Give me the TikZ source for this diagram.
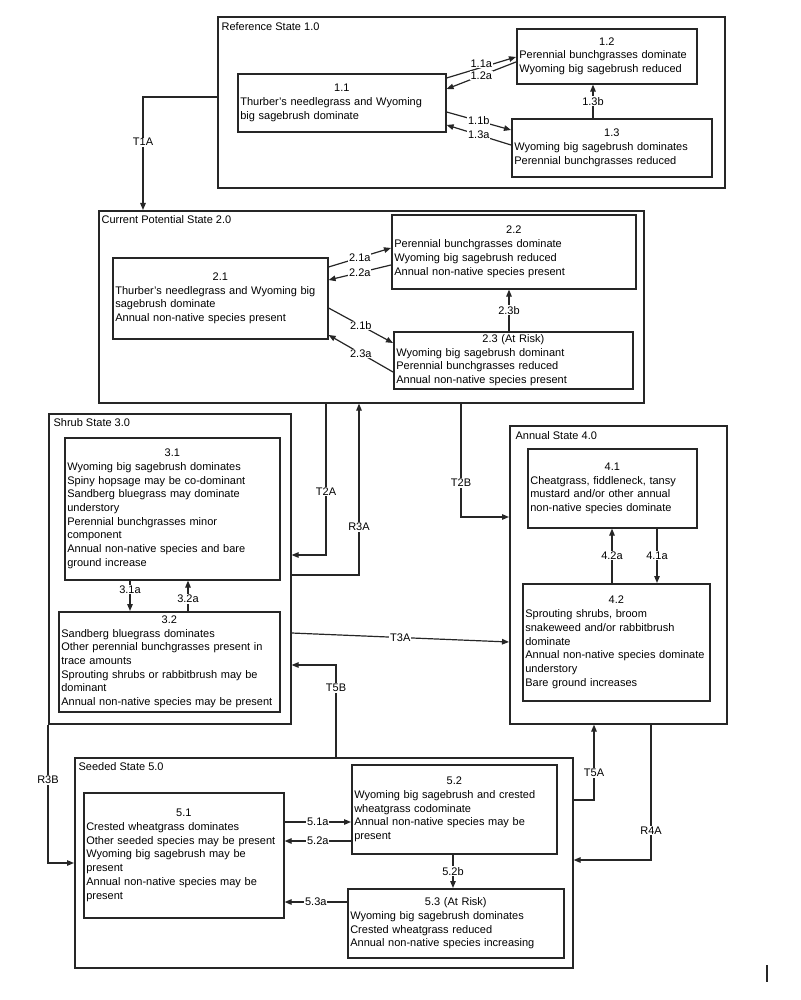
\documentclass[tikz,border=0pt]{standalone}
\usepackage{fontspec}
\setmainfont{Liberation Sans}
\usepackage{tikz}
\usetikzlibrary{arrows.meta}
\usetikzlibrary{calc,positioning}

\newcommand{\phhead}[1]{\makebox[\linewidth]{#1}\\}

\tikzset{
  statebox/.style={draw=black!85, line width=1.6pt, anchor=north west, inner sep=0pt},
  statetitle/.style={inner sep=0pt, anchor=north west},
  phase/.style={draw=black!85, line width=1.6pt, anchor=north west, inner xsep=2.5pt, inner ysep=0pt, align=left},
  tlabel/.style={fill=white, inner sep=0.8pt}
}

\begin{document}
\begin{tikzpicture}[x=1pt, y=-1pt, >={Triangle[length=7pt,width=5.5pt]}, line width=1.2pt, draw=black!85, font=\fontsize{11}{13.7}\selectfont]
        \useasboundingbox (0,0) rectangle (800,1000);

        % states
        \node[statebox, minimum width=507pt, minimum height=171pt] (S1) at (217,16) {};
        \node[statebox, minimum width=545pt, minimum height=192pt] (S2) at (98,210) {};
        \node[statebox, minimum width=242pt, minimum height=310pt] (S3) at (48,413) {};
        \node[statebox, minimum width=217pt, minimum height=298pt] (S4) at (509,425) {};
        \node[statebox, minimum width=498pt, minimum height=210pt] (S5) at (74,757) {};

        \node[statetitle, below right=6pt and 4pt of S1.north west] (t1) {Reference State 1.0};
        \node[statetitle, below right=5pt and 3pt of S2.north west] (t2) {Current Potential State 2.0};
        \node[statetitle, below right=5pt and 5pt of S3.north west] (t3) {Shrub State 3.0};
        \node[statetitle, below right=6pt and 6pt of S4.north west] (t4) {Annual State 4.0};
        \node[statetitle, below right=5pt and 4pt of S5.north west] (t5) {Seeded State 5.0};

        % phases
        \node[phase, minimum width=208pt, minimum height=58pt, text width=203pt] (p11) at (237,73)
          {\phhead{1.1}Thurber's needlegrass and Wyoming\\big sagebrush dominate};
        \node[phase, minimum width=180pt, minimum height=55pt, text width=175pt] (p12) at (516,28)
          {\phhead{1.2}Perennial bunchgrasses dominate\\Wyoming big sagebrush reduced};
        \node[phase, minimum width=200pt, minimum height=58pt, text width=195pt] (p13) at (511,118)
          {\phhead{1.3}Wyoming big sagebrush dominates\\Perennial bunchgrasses reduced};

        \node[phase, minimum width=215pt, minimum height=81pt, text width=210pt] (p21) at (112,257)
          {\phhead{2.1}Thurber's needlegrass and Wyoming big\\sagebrush dominate\\Annual non-native species present};
        \node[phase, minimum width=244pt, minimum height=74pt, text width=239pt] (p22) at (391,214)
          {\phhead{2.2}Perennial bunchgrasses dominate\\Wyoming big sagebrush reduced\\Annual non-native species present};
        \node[phase, minimum width=239pt, minimum height=57pt, text width=234pt] (p23) at (393,331)
          {\phhead{2.3 (At Risk)}Wyoming big sagebrush dominant\\Perennial bunchgrasses reduced\\Annual non-native species present};

        \node[phase, minimum width=215pt, minimum height=142pt, text width=210pt] (p31) at (64,437)
          {\phhead{3.1}Wyoming big sagebrush dominates\\Spiny hopsage may be co-dominant\\Sandberg bluegrass may dominate\\understory\\Perennial bunchgrasses minor\\component\\Annual non-native species and bare\\ground increase};
        \node[phase, minimum width=221pt, minimum height=100pt, text width=216pt] (p32) at (58,611)
          {\phhead{3.2}Sandberg bluegrass dominates\\Other perennial bunchgrasses present in\\trace amounts\\Sprouting shrubs or rabbitbrush may be\\dominant\\Annual non-native species may be present};

        \node[phase, minimum width=169pt, minimum height=79pt, text width=164pt] (p41) at (527,448)
          {\phhead{4.1}Cheatgrass, fiddleneck, tansy\\mustard and/or other annual\\non-native species dominate};
        \node[phase, minimum width=187pt, minimum height=117pt, text width=182pt] (p42) at (522,583)
          {\phhead{4.2}Sprouting shrubs, broom\\snakeweed and/or rabbitbrush\\dominate\\Annual non-native species dominate\\understory\\Bare ground increases};

        \node[phase, minimum width=200pt, minimum height=125pt, text width=195pt] (p51) at (83,792)
          {\phhead{5.1}Crested wheatgrass dominates\\Other seeded species may be present\\Wyoming big sagebrush may be\\present\\Annual non-native species may be\\present};
        \node[phase, minimum width=205pt, minimum height=89pt, text width=200pt] (p52) at (351,764)
          {\phhead{5.2}Wyoming big sagebrush and crested\\wheatgrass codominate\\Annual non-native species may be\\present};
        \node[phase, minimum width=216pt, minimum height=69pt, text width=211pt] (p53) at (347,888)
          {\phhead{5.3 (At Risk)}Wyoming big sagebrush dominates\\Crested wheatgrass reduced\\Annual non-native species increasing};

        % pathways inside states
        \path[->] ($(p11.north east)+(0,5)$) edge node[tlabel, yshift=4pt] {1.1a} ($(p12.north west)+(0,29)$);
        \path[->] ($(p12.north west)+(0,34)$) edge node[tlabel] {1.2a} ($(p11.north east)+(0,16)$);
        \path[->] ($(p11.north east)+(0,39)$) edge node[tlabel] {1.1b} ($(p13.north west)+(0,12)$);
        \path[->] ($(p13.north west)+(0,27)$) edge node[tlabel] {1.3a} ($(p11.north east)+(0,52)$);
        \path[->] ($(p13.north west)+(82,0)$) edge node[tlabel] {1.3b} ($(p12.south west)+(77,0)$);

        \path[->] ($(p21.north east)+(0,10)$) edge node[tlabel] {2.1a} ($(p22.north west)+(0,34)$);
        \path[->] ($(p22.north west)+(0,51)$) edge node[tlabel] {2.2a} ($(p21.north east)+(0,23)$);
        \path[->] ($(p21.north east)+(0,51)$) edge node[tlabel] {2.1b} ($(p23.north west)+(0,12)$);
        \path[->] ($(p23.north west)+(0,41)$) edge node[tlabel] {2.3a} ($(p21.north east)+(0,78)$);
        \path[->] ($(p23.north west)+(116,0)$) edge node[tlabel] {2.3b} ($(p22.south west)+(118,0)$);

        \path[->] ($(p31.south west)+(66,0)$) edge node[tlabel, pos=0.3] {3.1a} ($(p32.north west)+(72,0)$);
        \path[->] ($(p32.north west)+(130,0)$) edge node[tlabel, pos=0.4] {3.2a} ($(p31.south west)+(124,0)$);

        \path[->] ($(p42.north west)+(90,0)$) edge node[tlabel] {4.2a} ($(p41.south west)+(85,0)$);
        \path[->] ($(p41.south west)+(130,0)$) edge node[tlabel] {4.1a} ($(p42.north west)+(135,0)$);

        \path[->] ($(p51.north east)+(0,30)$) edge node[tlabel] {5.1a} ($(p52.north west)+(0,58)$);
        \path[->] ($(p52.north west)+(0,77)$) edge node[tlabel] {5.2a} ($(p51.north east)+(0,49)$);
        \path[->] ($(p52.south west)+(102,0)$) edge node[tlabel] {5.2b} ($(p53.north west)+(106,0)$);
        \path[->] ($(p53.north west)+(0,14)$) edge node[tlabel] {5.3a} ($(p51.north east)+(0,110)$);

        % transitions and restorations
        \draw[->] ($(S1.north west)+(0,81)$) -| ($(S2.north west)+(45,0)$) node[tlabel, pos=0.7] {T1A};
        \draw[->] ($(S2.south west)+(228,0)$) |- ($(S3.north east)+(0,142)$) node[tlabel, pos=0.29] {T2A};
        \draw[->] ($(S3.north east)+(0,162)$) -| ($(S2.south west)+(261,0)$) node[tlabel, pos=0.64] {R3A};
        \draw[->] ($(S2.south west)+(363,0)$) |- ($(S4.north west)+(0,92)$) node[tlabel, pos=0.35] {T2B};
        \path[->] ($(S3.north east)+(0,220)$) edge node[tlabel] {T3A} ($(S4.north west)+(0,217)$);
        \draw[->] ($(S5.north west)+(262,0)$) |- ($(S3.north east)+(0,252)$) node[tlabel, pos=0.375] {T5B};
        \draw[->] ($(S5.north east)+(0,43)$) -| ($(S4.south west)+(85,0)$) node[tlabel, pos=0.68] {T5A};
        \draw[->] ($(S4.south west)+(142,0)$) |- ($(S5.north east)+(0,103)$) node[tlabel, pos=0.39] {R4A};
        \draw[->] (S3.south west) |- ($(S5.north west)+(0,106)$) node[tlabel, pos=0.2] {R3B};

        \draw[line width=1.3pt] (767,965) -- (767,982);
\end{tikzpicture}
\end{document}
